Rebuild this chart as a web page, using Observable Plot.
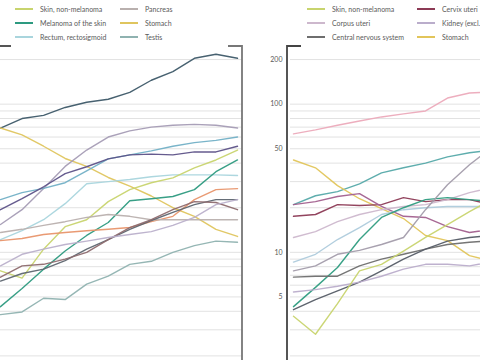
<!DOCTYPE html>
<html><head><meta charset="utf-8">
<script src="https://cdn.jsdelivr.net/npm/d3@7"></script>
<script src="https://cdn.jsdelivr.net/npm/@observablehq/plot@0.6"></script>
<style>
body{margin:0;background:#fff;}
#wrap{position:relative;width:480px;height:360px;overflow:hidden;background:#fff;font-family:Lato,"Open Sans",sans-serif;}
.panel{position:absolute;top:0;}
.leg{position:absolute;font-size:7px;color:#5a5a5a;white-space:nowrap;line-height:8px;}
.sw{position:absolute;height:1.6px;width:18px;}
</style></head>
<body><div id="wrap"></div>
<script>
// ---- data ----
const years = [1965,1970,1975,1980,1985,1990,1995,2000,2005,2010,2015,2020];
const gridTicks = [2,3,4,5,6,7,8,9,10,20,30,40,50,60,70,80,90,100,200];
const yTickLabels = [5,10,50,100,200];

// left panel (men)
const leftNames  = ["Prostate","Stomach","Lung","Colon","Bladder","Rectum, rectosigmoid","Skin, non-melanoma","Melanoma of the skin","Kidney","Pancreas","Leukaemia","Non-Hodgkin lymphoma","Central nervous system","Testis"];
const leftColors = ["#3d5868","#dfc55e","#a59cb5","#72b0c6","#5d5288","#a9d5dd","#c8d46e","#2d9a80","#e8956c","#b9b0ae","#5e6670","#8e6b6f","#bab0cb","#8fb2b0"];
const mProstate = [69,80,84,95,103,108,120,145,166,204,217,204];
const mStomach  = [69,62,52,43,38,32,28,24,20,17.5,14.3,12.8];
const mLung     = [15.4,19.4,27,38,49,60,66,70,72,73,72,69];
const mColon    = [22.7,25.3,27,29.5,35.5,42.7,45.5,48.4,52,55,57,60];
const mBladder  = [19.4,23,27.7,34,37.8,42.7,45.5,46,45.5,47.6,47.6,52];
const mRectum   = [12.2,14,16.6,21.3,29,30,31,32.4,33.3,33.3,33.3,33];
const mSkinNM   = [7.5,6.7,10.5,14.9,16.6,22,26.5,29.5,31.8,37.2,42,49];
const mMelanoma = [4.3,5.7,7.7,10.2,13,15.9,22.3,23,23.8,26.5,35,42];
const mKidney   = [12,12.4,13.2,13.6,14,14.3,14.7,16.1,17.5,22.7,26.5,26.9];
const mPancreas = [13.6,14.3,15.2,16.1,17.2,18,17.5,16.6,16.6,16.6,16.6,16.6];
const mLeuk     = [6.4,7.2,7.7,8.8,10.5,12.2,14.3,16.4,18.6,21,22.7,22.7];
const mNHL      = [6.8,8.1,8.3,9,10,12.2,14.7,16.6,19.4,22,21.7,19.4];
const mCNS      = [8.1,9.7,10.5,11.3,11.9,12.6,13.2,13.8,15.2,17.2,21,22.7];
const mTestis   = [3.8,3.96,4.9,4.8,6.1,6.9,8.3,8.7,10,11.1,11.9,11.7];
const leftValues = [mProstate,mStomach,mLung,mColon,mBladder,mRectum,mSkinNM,mMelanoma,mKidney,mPancreas,mLeuk,mNHL,mCNS,mTestis];

// right panel (women)
const rightNames  = ["Breast","Colon","Stomach","Cervix uteri","Ovary","Corpus uteri","Thyroid","Melanoma of the skin","Lung","Central nervous system","Non-Hodgkin lymphoma","Kidney (excl. renal pelvis)","Skin, non-melanoma"];
const rightColors = ["#ecaabb","#55a9a9","#e2c55a","#8c3a55","#a2608e","#cdb8cd","#aecbdc","#2e9c80","#a39cab","#6e6e6e","#555c66","#baadcb","#c8d46e"];
const fBreast   = [63,67,72,77,82,86,90,110,119,121];
const fColon    = [21,24.1,25.7,29,34.4,37.2,40,44.1,47,49];
const fStomach  = [42,37.2,28.2,23,19.7,16.9,13,12,9.5,8.7];
const fCervix   = [17.5,18,21,20.7,21,23.4,22,22.7,22.7,21];
const fOvary    = [21,22,23.8,24.9,20.4,17.5,17.2,14.9,13.6,14.3];
const fCorpus   = [12.6,13.8,16.1,18,19.4,20.4,21,22.7,25.3,27.3];
const fThyroid  = [8.6,9.7,12.2,14.7,18,19.4,20,20.4,20.4,20.4];
const fMelanoma = [4.3,5.8,7.9,12.2,17.2,20,22.7,23.4,22.7,22];
const fLung     = [7.5,8.1,9.7,10.3,11.3,12.6,19.4,28.6,39,50.7];
const fCNS      = [6.8,6.9,6.9,8.1,9,9.7,10.5,11.3,11.7,12];
const fNHL      = [4.1,4.8,5.5,6.3,7.5,9,10.5,11.9,12.6,13];
const fKidney   = [5.4,5.6,5.9,6.3,6.9,7.7,8.3,8.3,8.1,8.6];
const fSkinNM   = [3.7,2.8,4.5,7.5,8.3,10.2,12.6,15.4,18.8,22.7];
const rightValues = [fBreast,fColon,fStomach,fCervix,fOvary,fCorpus,fThyroid,fMelanoma,fLung,fCNS,fNHL,fKidney,fSkinNM];

const leftLegend  = [["Skin, non-melanoma","#c8d46e"],["Melanoma of the skin","#2d9a80"],["Rectum, rectosigmoid","#a9d5dd"],["Pancreas","#b9b0ae"],["Stomach","#dfc55e"],["Testis","#8fb2b0"]];
const rightLegend = [["Skin, non-melanoma","#c8d46e"],["Corpus uteri","#cdb8cd"],["Central nervous system","#6e6e6e"],["Cervix uteri","#8c3a55"],["Kidney (excl.","#baadcb"],["Stomach","#e2c55a"]];

// ---- build ----
function table(names, values){
  const rows=[];
  names.forEach((n,i)=>values[i].forEach((v,j)=>rows.push({series:n, year:years[j], value:v})));
  return rows;
}

function panel(opts){
  const svg = Plot.plot({
    width: opts.width, height: 400,
    marginLeft: opts.ml, marginRight: opts.mr, marginTop: 46, marginBottom: 0,
    style:{background:"transparent", overflow:"visible"},
    x:{domain:[years[0], years[years.length-1]], insetLeft: opts.il, insetRight: opts.ir, axis:null},
    y:{type:"log", domain:[1,245], axis:null},
    color:{domain: opts.names, range: opts.colors},
    marks:[
      Plot.ruleY(gridTicks, {stroke:"#e2e2e2", strokeWidth:1, insetLeft: opts.gridInset}),
      opts.labels ? Plot.axisY(yTickLabels, {tickSize:0, tickPadding:5, fontSize:7, fill:"#5a5a5a", tickFormat:d=>String(d), fontFamily:"Lato", label:null}) : null,
      Plot.line(table(opts.names, opts.values), {x:"year", y:"value", z:"series", stroke:"series", strokeWidth:1.4, strokeOpacity:0.95})
    ]
  });
  const x0 = opts.ml, x1 = opts.width - opts.mr, top = 46, bottom = 400;
  const g = d3.select(svg).append("g").attr("fill","none").attr("stroke-width",1.8);
  g.append("path").attr("stroke",opts.frameL).attr("d",`M${x0+14},${top}H${x0}V${bottom}`);
  g.append("path").attr("stroke",opts.frameR).attr("d",`M${x1-14},${top}H${x1}V${bottom}`);
  svg.classList.add("panel");
  svg.style.left = opts.left + "px";
  return svg;
}

const wrap = document.getElementById("wrap");
wrap.appendChild(panel({width:310, ml:57, mr:8, il:3, ir:5, left:-60, names:leftNames, colors:leftColors, values:leftValues, labels:false, gridInset:0, frameL:"#555", frameR:"#777"}));
wrap.appendChild(panel({width:320, ml:47, mr:20, il:6, ir:5, left:240, names:rightNames, colors:rightColors, values:rightValues, labels:true, gridInset:3, frameL:"#444", frameR:"#777"}));

function legend(items, xCol1, xCol2){
  items.forEach((it,i)=>{
    const col = i<3 ? xCol1 : xCol2;
    const row = i%3;
    const y = 9 + row*14;
    const sw = document.createElement("div");
    sw.className="sw"; sw.style.left=col+"px"; sw.style.top=(y-0.8)+"px"; sw.style.background=it[1];
    wrap.appendChild(sw);
    const t = document.createElement("div");
    t.className="leg"; t.textContent=it[0]; t.style.left=(col+25)+"px"; t.style.top=(y-4.5)+"px";
    wrap.appendChild(t);
  });
}
legend(leftLegend, 15, 120);
legend(rightLegend, 307, 417);
</script></body></html>
